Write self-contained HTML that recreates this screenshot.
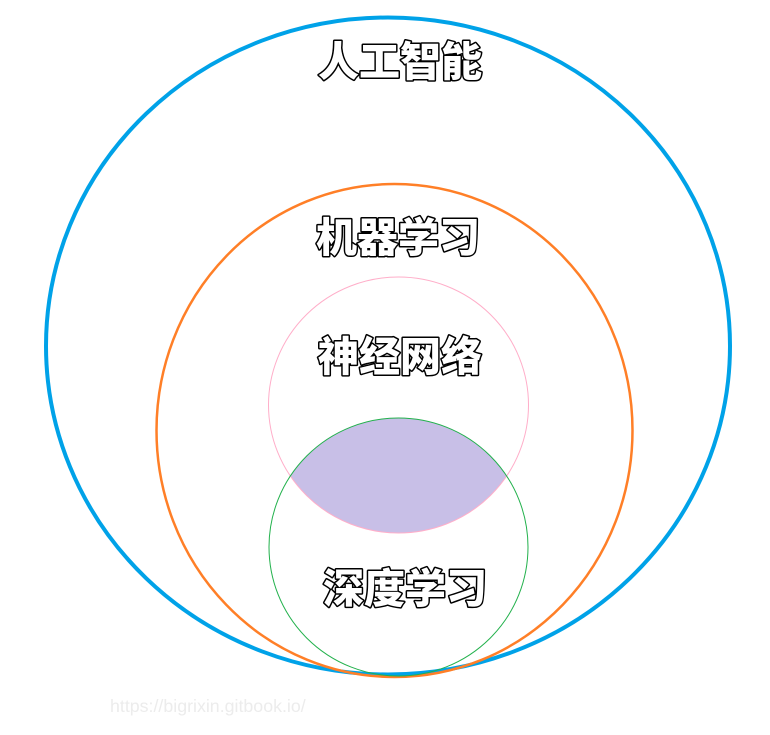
<!DOCTYPE html>
<html><head><meta charset="utf-8"><style>html,body{margin:0;padding:0;background:#fff;}svg{display:block}</style></head>
<body>
<svg width="770" height="735" viewBox="0 0 770 735" xmlns="http://www.w3.org/2000/svg">
<defs><clipPath id="g"><ellipse cx="398.5" cy="547" rx="129.5" ry="129"/></clipPath></defs>
<ellipse cx="388" cy="346" rx="342" ry="328.5" fill="none" stroke="#00a2e8" stroke-width="4"/>
<ellipse cx="394.5" cy="430.5" rx="238" ry="246.5" fill="none" stroke="#ff7f27" stroke-width="2.5"/>
<ellipse cx="398.5" cy="405" rx="130" ry="128" fill="#c8bfe7" clip-path="url(#g)"/>
<ellipse cx="398.5" cy="405" rx="130" ry="128" fill="none" stroke="#ffaec9" stroke-width="1"/>
<ellipse cx="398.5" cy="547" rx="129.5" ry="129" fill="none" stroke="#22b14c" stroke-width="1"/>
<g font-family="'Noto Sans CJK SC','WenQuanYi Zen Hei',sans-serif" font-weight="900" font-size="41" text-anchor="middle" fill="#fff" stroke="#000" stroke-width="3" paint-order="stroke" stroke-linejoin="round">
<text x="400" y="76">人工智能</text>
<text x="398" y="252">机器学习</text>
<text x="400" y="371">神经网络</text>
<text x="405" y="603">深度学习</text>
</g>
<text x="110" y="712" font-family="'Liberation Sans',sans-serif" font-size="17.8" fill="#ececec">https://bigrixin.gitbook.io/</text>
</svg>
</body></html>
